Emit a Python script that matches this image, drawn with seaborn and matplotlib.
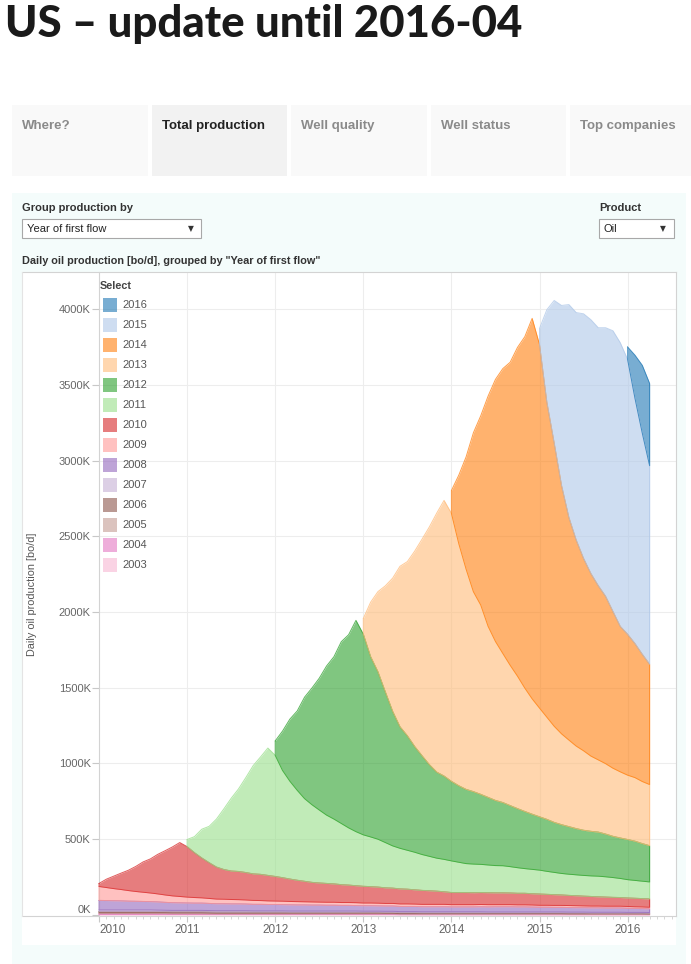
import numpy as np
import matplotlib
matplotlib.use("Agg")
import matplotlib.pyplot as plt
import seaborn as sns
from matplotlib.patches import Rectangle
from matplotlib.lines import Line2D
from matplotlib.ticker import FixedLocator

sns.set_theme(style="white")
plt.rcParams["font.family"] = ["Liberation Sans", "DejaVu Sans"]

# ---------------- data (thousand bo/d, monthly from cohort start, last month 2016-04) -------------
first_month = "2010-01"
c2003 = [4,4,4,4,4,4,4,4,4,4,3,3, 3,3,3,3,3,3,3,3,3,3,3,3, 3,3,3,3,3,3,3,3,3,3,3,3,
         3,3,3,3,3,2,2,2,2,2,2,2, 2,2,2,2,2,2,2,2,2,2,2,2, 2,2,2,2,2,2,2,2,2,2,2,2, 2,2,2,2]
c2004 = [5,5,5,5,5,5,5,5,5,5,5,5, 5,5,5,4,4,4,4,4,4,4,4,4, 4,4,4,4,4,4,4,4,4,4,4,4,
         4,4,4,4,4,3,3,3,3,3,3,3, 3,3,3,3,3,3,3,3,3,3,3,3, 3,3,3,3,3,3,3,3,3,3,3,3, 3,3,3,2]
c2005 = [6,6,6,6,6,6,6,6,6,6,6,6, 6,6,6,6,5,5,5,5,5,5,5,5, 5,5,5,5,5,5,5,5,5,5,5,5,
         5,5,5,4,4,4,4,4,4,4,4,4, 4,4,4,4,4,4,4,4,4,4,4,4, 4,4,4,4,3,3,3,3,3,3,3,3, 3,3,3,3]
c2006 = [8,8,8,8,8,8,8,8,8,7,7,7, 7,7,7,7,7,7,7,7,7,7,7,7, 7,7,6,6,6,6,6,6,6,6,6,6,
         6,6,6,6,6,6,6,6,5,5,5,5, 5,5,5,5,5,5,5,5,5,5,5,5, 5,5,5,5,5,5,5,4,4,4,4,4, 4,4,4,4]
c2007 = [10,10,10,10,10,10,10,10,9,9,9,9, 9,9,9,9,9,9,9,9,9,8,8,8, 8,8,8,8,8,8,8,8,8,8,8,8,
         7,7,7,7,7,7,7,7,7,7,7,7, 7,7,7,7,7,6,6,6,6,6,6,6, 6,6,6,6,6,6,6,6,6,6,6,6, 5,5,5,5]
c2008 = [63,62,61,60,58,57,56,55,54,52,51,50, 49,48,48,47,46,46,45,45,44,43,43,42,
         42,41,41,40,40,39,39,38,38,37,37,36, 36,36,35,35,35,34,34,34,33,33,33,33,
         32,32,32,32,33,33,34,34,34,33,33,32, 31,31,30,30,30,29,29,29,29,28,28,28, 27,26,25,24]
c2009 = [92,86,80,75,70,65,61,57,53,49,45,42, 39,37,35,33,31,30,29,28,27,26,25,24,
         23,23,22,22,21,21,20,20,20,19,19,19, 18,18,18,17,17,17,17,16,16,16,16,16,
         15,15,15,15,15,15,14,14,14,14,14,14, 13,13,13,13,13,13,12,12,12,12,12,12, 12,11,11,11]
c2010 = [20,55,82,108,134,165,200,225,261,292,323,356,
         333,296,263,236,211,196,188,186,181,175,173,168,
         162,155,148,141,135,129,126,124,121,118,115,112,
         110,108,106,103,101,99,97,94,92,90,87,83,
         80,80,80,79,79,79,78,78,77,76,76,74,
         74,72,71,69,67,66,64,63,61,60,58,57,
         56,56,55,55]
c2011 = [47,106,190,240,317,400,480,545,627,715,775,841,
         800,708,646,594,546,513,482,451,428,404,378,357,
         340,328,316,299,279,268,257,248,237,227,218,214,
         209,200,191,189,186,183,180,179,174,169,163,161,
         158,152,147,142,140,138,137,136,136,134,131,126,
         121,118,115,112]
c2012 = [95,260,410,524,670,770,870,985,1072,1200,1275,1395,
         1325,1190,1105,995,888,802,756,698,652,605,568,550,
         525,505,490,478,462,446,430,417,403,390,377,364,
         352,343,330,322,314,305,298,294,291,282,272,267,
         265,259,248,239]
c2013 = [103,360,530,700,880,1060,1150,1290,1430,1570,1710,1820,
         1770,1600,1455,1320,1250,1130,1050,985,927,875,815,762,
         718,675,635,600,572,545,525,497,477,465,450,437,
         425,420,410,404]
c2014 = [150,450,740,1050,1250,1520,1730,1880,2000,2170,2320,2512,
         2400,2080,1870,1640,1470,1360,1270,1205,1150,1105,1035,960,
         930,885,840,794]
c2015 = [106,610,941,1188,1405,1502,1615,1676,1703,1773,1853,1873,
         1815,1620,1460,1311]
c2016 = [82,284,448,543]

cohort_names = ["2003","2004","2005","2006","2007","2008","2009",
                "2010","2011","2012","2013","2014","2015","2016"]
cohort_values = [c2003,c2004,c2005,c2006,c2007,c2008,c2009,
                 c2010,c2011,c2012,c2013,c2014,c2015,c2016]
year_ticks = [2010, 2011, 2012, 2013, 2014, 2015, 2016]
y_ticks = [0, 500, 1000, 1500, 2000, 2500, 3000, 3500, 4000]
tabs = ["Where?", "Total production", "Well quality", "Well status", "Top companies"]

# ---------------- colours ----------------
pal = sns.color_palette("tab20", 20)
colors = {name: pal[2016 - int(name)] for name in cohort_names}

# ---------------- figure ----------------
W, H = 691, 964
fig = plt.figure(figsize=(W / 100, H / 100), dpi=100)
fig.patch.set_facecolor("white")

def fx(px):
    return px / W

def fy(py):
    return 1 - py / H

def rect(x0, y0, x1, y1, **kw):
    r = Rectangle((fx(x0), fy(y1)), (x1 - x0) / W, (y1 - y0) / H,
                  transform=fig.transFigure, **kw)
    fig.add_artist(r)
    return r

# title
title = fig.text(fx(5), fy(37), "US \u2013 update until 2016-04", fontsize=30,
                 fontweight=900, family=["Lato", "DejaVu Sans"], color="#1a1a1a",
                 va="baseline", ha="left")
fig.canvas.draw()
bb = title.get_window_extent(fig.canvas.get_renderer())
title.set_fontsize(30 * 517 / bb.width)

# tabs
tab_x = [(12, 148), (152, 287), (291, 427), (431, 566), (570, 691)]
for i, (lab, (a, b)) in enumerate(zip(tabs, tab_x)):
    sel = (i == 1)
    rect(a, 105, b, 176, facecolor="#f2f2f2" if sel else "#f9f9f9", edgecolor="none", zorder=-3)
    fig.text(fx(a + 10), fy(129), lab, fontsize=9.5, fontweight="bold",
             color="#222222" if sel else "#8a8a8a", va="baseline", ha="left")

# cyan panel and white chart box
rect(12, 193, 686, 964, facecolor="#f4fcfb", edgecolor="none", zorder=-3)
rect(22, 272, 676, 945, facecolor="white", edgecolor="none", zorder=-2)
fig.add_artist(Line2D([fx(22), fx(22)], [fy(272), fy(916)], transform=fig.transFigure,
                      color="#e4e4e4", lw=0.8, zorder=3))

# controls
fig.text(fx(22), fy(208), "Group production by", fontsize=8, fontweight="bold",
         color="#333333", va="center")
rect(22, 219, 201, 238, facecolor="white", edgecolor="#a8a8a8", lw=0.8, zorder=1)
fig.text(fx(27), fy(229), "Year of first flow", fontsize=8, color="#222222", va="center")
fig.text(fx(188), fy(229), "\u25BC", fontsize=5.5, color="#333333", va="center",
         family=["DejaVu Sans"])
fig.text(fx(599), fy(208), "Product", fontsize=8, fontweight="bold", color="#333333", va="center")
rect(599, 219, 674, 238, facecolor="white", edgecolor="#a8a8a8", lw=0.8, zorder=1)
fig.text(fx(603), fy(229), "Oil", fontsize=8, color="#222222", va="center")
fig.text(fx(660), fy(229), "\u25BC", fontsize=5.5, color="#333333", va="center",
         family=["DejaVu Sans"])
fig.text(fx(22), fy(261), 'Daily oil production [bo/d], grouped by "Year of first flow"',
         fontsize=7.8, fontweight="bold", color="#333333", va="center")

# ---------------- axes ----------------
ax = fig.add_axes([fx(22), fy(916), (676 - 22) / W, (916 - 272) / H])
ax.set_zorder(1)
ax.set_facecolor("white")
x0 = 2010 - 77 / 88.1
x1 = 2010 + (676 - 99) / 88.1
ax.set_xlim(x0, x1)
ax.set_ylim(-7, 4245)

n_months = len(c2010)
x_all = 2010 + np.arange(n_months) / 12.0
base = np.zeros(n_months)
for name, vals in zip(cohort_names, cohort_values):
    v = np.asarray(vals, dtype=float)
    s = n_months - len(v)
    xs = x_all[s:]
    lower = base[s:].copy()
    upper = lower + v
    col = colors[name]
    ax.fill_between(xs, lower, upper, facecolor=col, alpha=0.6, lw=0, zorder=3)
    px = np.concatenate([xs, xs[::-1], xs[:1]])
    py = np.concatenate([upper, lower[::-1], upper[:1]])
    ax.plot(px, py, color=col, alpha=0.75, lw=0.7, zorder=3.5)
    base[s:] = upper

# grid
grid_c = "#ededed"
ax.hlines(y_ticks[1:], 2010, x1, colors=grid_c, lw=0.8, zorder=1)
ax.vlines(year_ticks[1:], -7, 4245, colors=grid_c, lw=0.8, zorder=1)

for sp in ["top", "right", "bottom"]:
    ax.spines[sp].set_color("#d3d3d3")
    ax.spines[sp].set_linewidth(0.8)
ax.spines["left"].set_position(("data", 2010))
ax.spines["left"].set_color("#d3d3d3")
ax.spines["left"].set_linewidth(0.8)

ax.set_yticks(y_ticks)
ax.set_yticklabels([f"{v}K" for v in y_ticks])
ax.tick_params(axis="y", which="major", left=True, length=5, width=0.8, color="#c8c8c8",
               labelsize=8, labelcolor="#666666", pad=1)
ax.yaxis.get_major_ticks()[0].label1.set_verticalalignment("bottom")

ax.set_xticks(year_ticks)
ax.set_xticklabels([str(y) for y in year_ticks])
minor_pos = [2010 + m / 12 for m in range(1, 79) if m % 12 != 0]
ax.xaxis.set_minor_locator(FixedLocator(minor_pos))
ax.tick_params(axis="x", which="major", bottom=True, length=4, width=0.8, color="#c8c8c8",
               labelsize=8.5, labelcolor="#666666", pad=2)
ax.tick_params(axis="x", which="minor", bottom=True, length=2.5, width=0.6, color="#d0d0d0")
ax.xaxis.get_major_ticks()[0].label1.set_horizontalalignment("left")

# y axis title
fig.text(fx(32), fy(594), "Daily oil production [bo/d]", rotation=90, fontsize=7.8,
         color="#555555", va="center", ha="center")

# legend
fig.text(fx(100), fy(286), "Select", fontsize=7.8, fontweight="bold", color="#444444",
         va="center", zorder=5)
for i, name in enumerate(cohort_names[::-1]):
    yc = 305 + 20 * i
    rect(103, yc - 7, 117, yc + 7, facecolor=colors[name], alpha=0.6, edgecolor="none", zorder=5)
    fig.text(fx(122), fy(yc), name, fontsize=8, color="#555555", va="center", zorder=5)

fig.savefig("out.png", dpi=100)
